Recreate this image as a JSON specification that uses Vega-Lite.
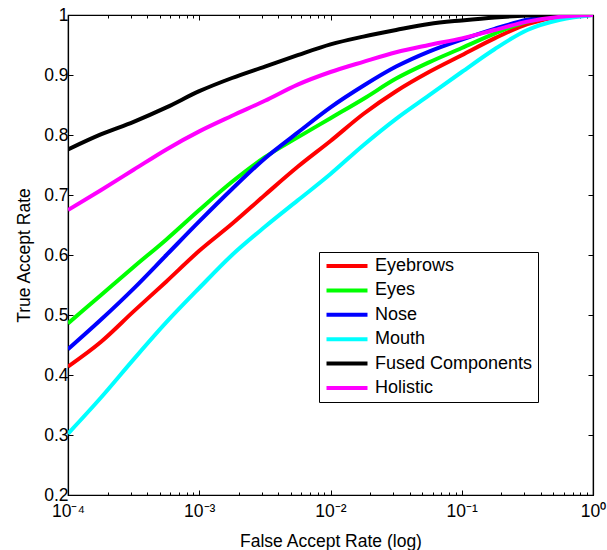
{
  "$schema": "https://vega.github.io/schema/vega-lite/v6.json",
  "width": 525,
  "height": 480,
  "autosize": {"type": "none"},
  "padding": {"left": 68, "top": 15, "right": 14, "bottom": 55},
  "background": "white",
  "config": {
    "font": "Liberation Sans",
    "view": {"stroke": "black", "strokeWidth": 1.2},
    "axis": {
      "domainColor": "black",
      "domainWidth": 1.2,
      "tickColor": "black",
      "tickWidth": 1,
      "labelColor": "black",
      "labelFont": "Liberation Sans",
      "labelFontSize": 17.5,
      "titleFont": "Liberation Sans",
      "titleFontSize": 17.5,
      "titleFontWeight": "normal",
      "titleColor": "black",
      "grid": false,
      "labelOverlap": false,
      "labelFlush": false,
      "labelBound": false
    },
    "legend": {
      "labelFont": "Liberation Sans",
      "labelFontSize": 18,
      "labelColor": "black"
    }
  },
  "datasets": {
    "roc": [
      {"s": "Eyebrows", "far": 0.0001, "tar": 0.414},
      {"s": "Eyebrows", "far": 0.000177828, "tar": 0.455},
      {"s": "Eyebrows", "far": 0.000316228, "tar": 0.506},
      {"s": "Eyebrows", "far": 0.000562341, "tar": 0.556},
      {"s": "Eyebrows", "far": 0.001, "tar": 0.607},
      {"s": "Eyebrows", "far": 0.00177828, "tar": 0.652},
      {"s": "Eyebrows", "far": 0.00316228, "tar": 0.7},
      {"s": "Eyebrows", "far": 0.00562341, "tar": 0.747},
      {"s": "Eyebrows", "far": 0.01, "tar": 0.79},
      {"s": "Eyebrows", "far": 0.0177828, "tar": 0.835},
      {"s": "Eyebrows", "far": 0.0316228, "tar": 0.873},
      {"s": "Eyebrows", "far": 0.0562341, "tar": 0.905},
      {"s": "Eyebrows", "far": 0.1, "tar": 0.933},
      {"s": "Eyebrows", "far": 0.177828, "tar": 0.961},
      {"s": "Eyebrows", "far": 0.316228, "tar": 0.985},
      {"s": "Eyebrows", "far": 0.562341, "tar": 0.997},
      {"s": "Eyebrows", "far": 1, "tar": 1},
      {"s": "Eyes", "far": 0.0001, "tar": 0.486},
      {"s": "Eyes", "far": 0.000177828, "tar": 0.533},
      {"s": "Eyes", "far": 0.000316228, "tar": 0.58},
      {"s": "Eyes", "far": 0.000562341, "tar": 0.626},
      {"s": "Eyes", "far": 0.001, "tar": 0.675},
      {"s": "Eyes", "far": 0.00177828, "tar": 0.722},
      {"s": "Eyes", "far": 0.00316228, "tar": 0.763},
      {"s": "Eyes", "far": 0.00562341, "tar": 0.796},
      {"s": "Eyes", "far": 0.01, "tar": 0.828},
      {"s": "Eyes", "far": 0.0177828, "tar": 0.86},
      {"s": "Eyes", "far": 0.0316228, "tar": 0.894},
      {"s": "Eyes", "far": 0.0562341, "tar": 0.921},
      {"s": "Eyes", "far": 0.1, "tar": 0.945},
      {"s": "Eyes", "far": 0.177828, "tar": 0.969},
      {"s": "Eyes", "far": 0.316228, "tar": 0.989},
      {"s": "Eyes", "far": 0.562341, "tar": 0.998},
      {"s": "Eyes", "far": 1, "tar": 1},
      {"s": "Nose", "far": 0.0001, "tar": 0.443},
      {"s": "Nose", "far": 0.000177828, "tar": 0.492},
      {"s": "Nose", "far": 0.000316228, "tar": 0.544},
      {"s": "Nose", "far": 0.000562341, "tar": 0.6},
      {"s": "Nose", "far": 0.001, "tar": 0.656},
      {"s": "Nose", "far": 0.00177828, "tar": 0.71},
      {"s": "Nose", "far": 0.00316228, "tar": 0.761},
      {"s": "Nose", "far": 0.00562341, "tar": 0.804},
      {"s": "Nose", "far": 0.01, "tar": 0.846},
      {"s": "Nose", "far": 0.0177828, "tar": 0.882},
      {"s": "Nose", "far": 0.0316228, "tar": 0.914},
      {"s": "Nose", "far": 0.0562341, "tar": 0.939},
      {"s": "Nose", "far": 0.1, "tar": 0.959},
      {"s": "Nose", "far": 0.177828, "tar": 0.977},
      {"s": "Nose", "far": 0.316228, "tar": 0.992},
      {"s": "Nose", "far": 0.562341, "tar": 0.999},
      {"s": "Nose", "far": 1, "tar": 1},
      {"s": "Mouth", "far": 0.0001, "tar": 0.302},
      {"s": "Mouth", "far": 0.000177828, "tar": 0.362},
      {"s": "Mouth", "far": 0.000316228, "tar": 0.426},
      {"s": "Mouth", "far": 0.000562341, "tar": 0.488},
      {"s": "Mouth", "far": 0.001, "tar": 0.545},
      {"s": "Mouth", "far": 0.00177828, "tar": 0.6},
      {"s": "Mouth", "far": 0.00316228, "tar": 0.647},
      {"s": "Mouth", "far": 0.00562341, "tar": 0.691},
      {"s": "Mouth", "far": 0.01, "tar": 0.735},
      {"s": "Mouth", "far": 0.0177828, "tar": 0.783},
      {"s": "Mouth", "far": 0.0316228, "tar": 0.827},
      {"s": "Mouth", "far": 0.0562341, "tar": 0.866},
      {"s": "Mouth", "far": 0.1, "tar": 0.905},
      {"s": "Mouth", "far": 0.177828, "tar": 0.943},
      {"s": "Mouth", "far": 0.316228, "tar": 0.975},
      {"s": "Mouth", "far": 0.562341, "tar": 0.992},
      {"s": "Mouth", "far": 1, "tar": 1},
      {"s": "Fused Components", "far": 0.0001, "tar": 0.776},
      {"s": "Fused Components", "far": 0.000177828, "tar": 0.801},
      {"s": "Fused Components", "far": 0.000316228, "tar": 0.822},
      {"s": "Fused Components", "far": 0.000562341, "tar": 0.846},
      {"s": "Fused Components", "far": 0.001, "tar": 0.873},
      {"s": "Fused Components", "far": 0.00177828, "tar": 0.895},
      {"s": "Fused Components", "far": 0.00316228, "tar": 0.914},
      {"s": "Fused Components", "far": 0.00562341, "tar": 0.933},
      {"s": "Fused Components", "far": 0.01, "tar": 0.951},
      {"s": "Fused Components", "far": 0.0177828, "tar": 0.964},
      {"s": "Fused Components", "far": 0.0316228, "tar": 0.975},
      {"s": "Fused Components", "far": 0.0562341, "tar": 0.985},
      {"s": "Fused Components", "far": 0.1, "tar": 0.991},
      {"s": "Fused Components", "far": 0.177828, "tar": 0.996},
      {"s": "Fused Components", "far": 0.316228, "tar": 0.999},
      {"s": "Fused Components", "far": 0.562341, "tar": 1},
      {"s": "Fused Components", "far": 1, "tar": 1},
      {"s": "Holistic", "far": 0.0001, "tar": 0.675},
      {"s": "Holistic", "far": 0.000177828, "tar": 0.708},
      {"s": "Holistic", "far": 0.000316228, "tar": 0.742},
      {"s": "Holistic", "far": 0.000562341, "tar": 0.776},
      {"s": "Holistic", "far": 0.001, "tar": 0.806},
      {"s": "Holistic", "far": 0.00177828, "tar": 0.832},
      {"s": "Holistic", "far": 0.00316228, "tar": 0.857},
      {"s": "Holistic", "far": 0.00562341, "tar": 0.884},
      {"s": "Holistic", "far": 0.01, "tar": 0.905},
      {"s": "Holistic", "far": 0.0177828, "tar": 0.922},
      {"s": "Holistic", "far": 0.0316228, "tar": 0.938},
      {"s": "Holistic", "far": 0.0562341, "tar": 0.95},
      {"s": "Holistic", "far": 0.1, "tar": 0.961},
      {"s": "Holistic", "far": 0.177828, "tar": 0.975},
      {"s": "Holistic", "far": 0.316228, "tar": 0.989},
      {"s": "Holistic", "far": 0.562341, "tar": 0.997},
      {"s": "Holistic", "far": 1, "tar": 1}
    ]
  },
  "data": {"name": "roc"},
  "layer": [
    {
      "mark": {"type": "line", "strokeWidth": 4, "clip": true, "interpolate": "monotone"},
      "encoding": {
        "x": {
          "field": "far",
          "type": "quantitative",
          "scale": {"type": "log", "domain": [0.0001, 1], "nice": false},
          "axis": {
            "orient": "bottom",
            "title": "False Accept Rate (log)",
            "titlePadding": 11,
            "labelFontSize": 17.5,
            "values": [0.0001, 0.0002, 0.0003, 0.0004, 0.0005, 0.0006, 0.0007, 0.0008, 0.0009, 0.001, 0.002, 0.003, 0.004, 0.005, 0.006, 0.007, 0.008, 0.009, 0.01, 0.02, 0.03, 0.04, 0.05, 0.06, 0.07, 0.08, 0.09, 0.1, 0.2, 0.3, 0.4, 0.5, 0.6, 0.7, 0.8, 0.9, 1],
            "labelExpr": "datum.value === 0.0001 ? '10⁻⁴' : datum.value === 0.001 ? '10⁻³' : datum.value === 0.01 ? '10⁻²' : datum.value === 0.1 ? '10⁻¹' : datum.value === 1 ? '10⁰' : ''",
            "tickSize": {"condition": {"test": "indexof([0.0001, 0.001, 0.01, 0.1, 1], datum.value) >= 0", "value": -5}, "value": -3},
            "labelPadding": 12
          }
        },
        "y": {
          "field": "tar",
          "type": "quantitative",
          "scale": {"domain": [0.2, 1], "nice": false, "zero": false},
          "axis": {
            "orient": "left",
            "title": "True Accept Rate",
            "labelFontSize": 17.5,
            "values": [0.2, 0.3, 0.4, 0.5, 0.6, 0.7, 0.8, 0.9, 1],
            "format": "~g",
            "tickSize": -5,
            "labelPadding": 5,
            "titlePadding": 10
          }
        },
        "color": {
          "field": "s",
          "type": "nominal",
          "scale": {
            "domain": ["Eyebrows", "Eyes", "Nose", "Mouth", "Fused Components", "Holistic"],
            "range": ["#ff0000", "#00ff00", "#0000ff", "#00ffff", "#000000", "#ff00ff"]
          },
          "legend": {
            "title": null,
            "orient": "none",
            "legendX": 251,
            "legendY": 237,
            "strokeColor": "black",
            "fillColor": "white",
            "padding": 5,
            "symbolType": "M-4,0H4",
            "symbolSize": 105,
            "symbolStrokeWidth": 4,
            "symbolOffset": 14,
            "labelOffset": 19,
            "rowPadding": 6.4
          }
        }
      }
    },
    {
      "mark": {"type": "line", "opacity": 0},
      "encoding": {
        "x": {
          "field": "far",
          "type": "quantitative",
          "scale": {"type": "log", "domain": [0.0001, 1], "nice": false},
          "axis": {
            "orient": "top",
            "title": null,
            "labels": false,
            "values": [0.0001, 0.0002, 0.0003, 0.0004, 0.0005, 0.0006, 0.0007, 0.0008, 0.0009, 0.001, 0.002, 0.003, 0.004, 0.005, 0.006, 0.007, 0.008, 0.009, 0.01, 0.02, 0.03, 0.04, 0.05, 0.06, 0.07, 0.08, 0.09, 0.1, 0.2, 0.3, 0.4, 0.5, 0.6, 0.7, 0.8, 0.9, 1],
            "tickSize": {"condition": {"test": "indexof([0.0001, 0.001, 0.01, 0.1, 1], datum.value) >= 0", "value": -5}, "value": -3}
          }
        },
        "y": {
          "field": "tar",
          "type": "quantitative",
          "scale": {"domain": [0.2, 1], "nice": false, "zero": false},
          "axis": {
            "orient": "right",
            "title": null,
            "labels": false,
            "values": [0.2, 0.3, 0.4, 0.5, 0.6, 0.7, 0.8, 0.9, 1],
            "tickSize": -5
          }
        },
        "detail": {"field": "s"}
      }
    }
  ],
  "resolve": {"axis": {"x": "independent", "y": "independent"}}
}
